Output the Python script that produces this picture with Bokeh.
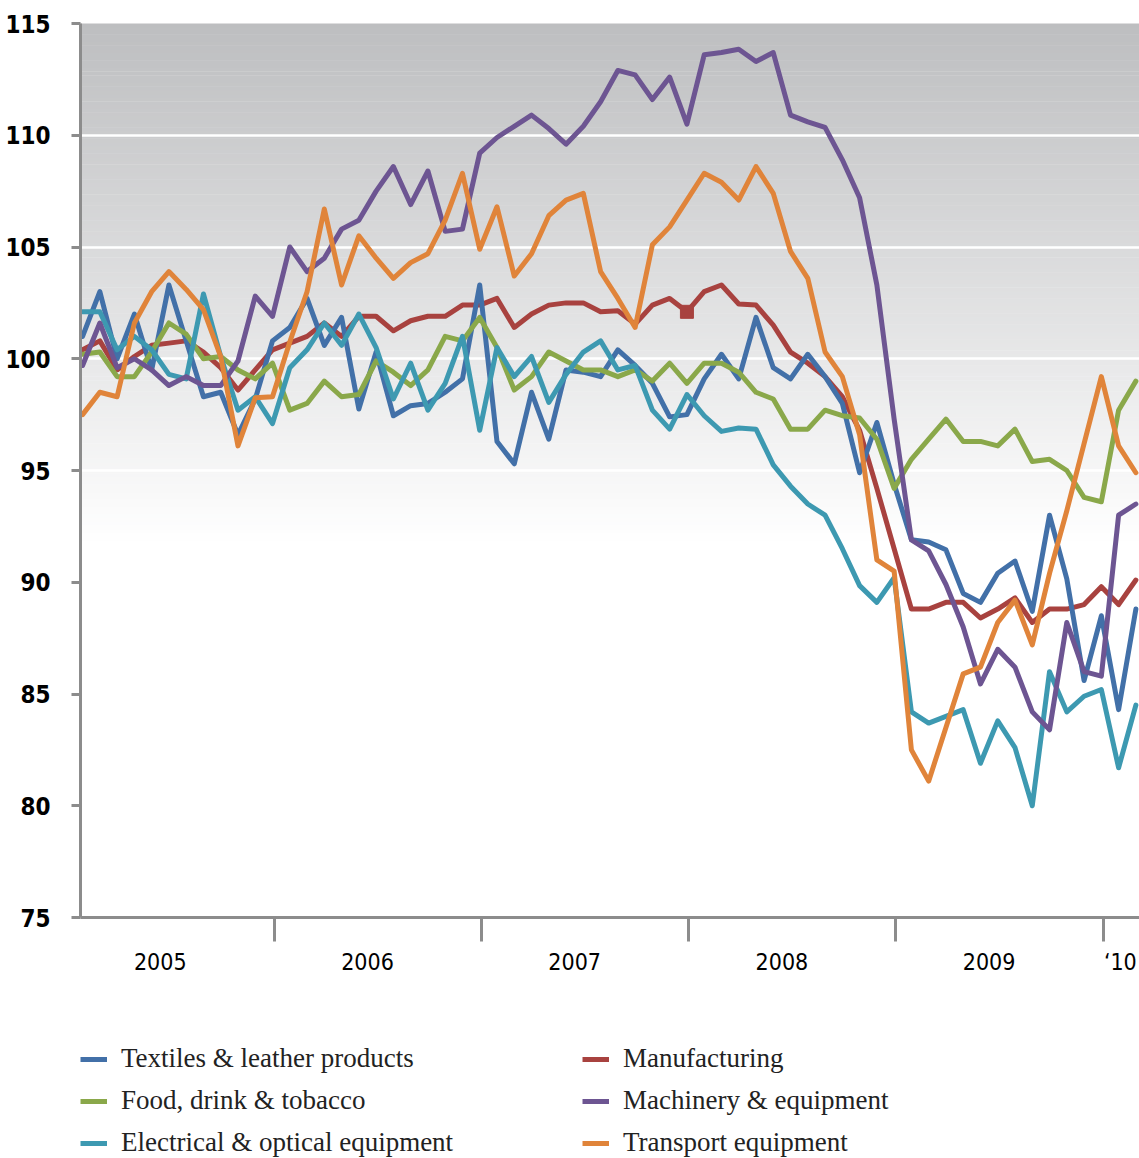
import numpy as np
from bokeh.plotting import figure
from bokeh.layouts import column
from bokeh.models import (Range1d, FixedTicker, Legend, LegendItem,
                          CustomJSTickFormatter)
from bokeh.embed import file_html
from bokeh.resources import INLINE

# Monthly index: 0 = Feb 2005 ... 61 = Mar 2010
months = list(range(62))

textiles = [101.0, 103.0, 100.0, 102.0, 99.5, 103.3, 100.8, 98.3, 98.5, 96.6,
            98.2, 100.8, 101.4, 102.7, 100.6, 101.85, 97.75, 100.3, 97.45, 97.9,
            98.0, 98.5, 99.1, 103.3, 96.3, 95.3, 98.5, 96.4, 99.5, 99.4,
            99.2, 100.4, 99.7, 98.9, 97.4, 97.5, 99.1, 100.2, 99.1, 101.85,
            99.6, 99.1, 100.2, 99.2, 98.0, 94.9, 97.15, 94.4, 91.9, 91.8,
            91.45, 89.5, 89.1, 90.4, 90.95, 88.7, 93.0, 90.15, 85.6, 88.5,
            84.3, 88.8]

manufacturing = [100.4, 100.8, 99.5, 100.1, 100.6, 100.7, 100.8, 100.3, 99.6, 98.6,
                 99.5, 100.4, 100.7, 101.0, 101.6, 101.0, 101.9, 101.9, 101.25, 101.7,
                 101.9, 101.9, 102.4, 102.4, 102.7, 101.4, 102.0, 102.4, 102.5, 102.5,
                 102.1, 102.15, 101.55, 102.4, 102.7, 102.1, 103.0, 103.3, 102.45, 102.4,
                 101.5, 100.3, 99.8, 99.2, 98.3, 96.8, 94.2, 91.5, 88.8, 88.8,
                 89.1, 89.1, 88.4, 88.8, 89.3, 88.2, 88.8, 88.8, 89.0, 89.8,
                 89.0, 90.1]

food = [100.2, 100.3, 99.2, 99.2, 100.3, 101.6, 101.1, 100.0, 100.1, 99.5,
        99.1, 99.8, 97.7, 98.0, 99.0, 98.3, 98.4, 99.9, 99.4, 98.8,
        99.5, 101.0, 100.8, 101.85, 100.5, 98.6, 99.2, 100.3, 99.9, 99.5,
        99.5, 99.2, 99.5, 99.0, 99.8, 98.9, 99.8, 99.8, 99.4, 98.5,
        98.2, 96.85, 96.85, 97.7, 97.45, 97.35, 96.4, 94.2, 95.5, 96.4,
        97.3, 96.3, 96.3, 96.1, 96.85, 95.4, 95.5, 95.0, 93.8, 93.6,
        97.7, 99.0]

machinery = [99.7, 101.6, 99.6, 100.0, 99.5, 98.8, 99.2, 98.8, 98.8, 99.9,
             102.8, 101.9, 105.0, 103.9, 104.5, 105.8, 106.2, 107.5, 108.6, 106.9,
             108.4, 105.7, 105.8, 109.2, 109.9, 110.4, 110.9, 110.3, 109.6, 110.4,
             111.5, 112.9, 112.7, 111.6, 112.6, 110.5, 113.6, 113.7, 113.85, 113.3,
             113.7, 110.9, 110.6, 110.35, 108.9, 107.2, 103.3, 97.3, 91.9, 91.4,
             89.9, 88.0, 85.45, 87.0, 86.2, 84.2, 83.4, 88.2, 86.0, 85.8,
             93.0, 93.5]

electrical = [102.1, 102.1, 100.4, 101.0, 100.4, 99.3, 99.1, 102.9, 100.1, 97.7,
              98.3, 97.1, 99.6, 100.4, 101.6, 100.6, 102.0, 100.5, 98.2, 99.8,
              97.7, 98.9, 101.0, 96.8, 100.5, 99.2, 100.1, 98.05, 99.3, 100.3,
              100.8, 99.5, 99.7, 97.7, 96.85, 98.4, 97.45, 96.75, 96.9, 96.85,
              95.25, 94.3, 93.5, 93.0, 91.5, 89.85, 89.1, 90.2, 84.2, 83.7,
              84.0, 84.3, 81.9, 83.8, 82.6, 80.0, 86.0, 84.2, 84.9, 85.2,
              81.7, 84.5]

transport = [97.5, 98.5, 98.3, 101.6, 103.0, 103.9, 103.1, 102.2, 100.1, 96.1,
             98.25, 98.3, 100.75, 103.0, 106.7, 103.3, 105.5, 104.5, 103.6, 104.3,
             104.7, 106.2, 108.3, 104.9, 106.8, 103.7, 104.7, 106.4, 107.1, 107.4,
             103.9, 102.7, 101.4, 105.1, 105.9, 107.1, 108.3, 107.9, 107.1, 108.6,
             107.4, 104.8, 103.6, 100.3, 99.2, 96.6, 91.0, 90.5, 82.5, 81.1,
             83.5, 85.9, 86.2, 88.2, 89.2, 87.2, 90.4, 93.2, 96.2, 99.2,
             96.1, 94.9]

series_names = ["Textiles & leather products", "Food, drink & tobacco",
                "Electrical & optical equipment", "Manufacturing",
                "Machinery & equipment", "Transport equipment"]

year_labels = ["2005", "2006", "2007", "2008", "2009", "\u201810"]
year_label_pos = [4.5, 16.5, 28.5, 40.5, 52.5, 60.1]
year_bounds = [11.1, 23.1, 35.1, 47.1, 59.1]
y_ticks = [75, 80, 85, 90, 95, 100, 105, 110, 115]
marked_month = 35

colors = {
    "Textiles & leather products": "#4270a8",
    "Food, drink & tobacco": "#8aa84a",
    "Electrical & optical equipment": "#3d99b1",
    "Manufacturing": "#a8423f",
    "Machinery & equipment": "#6d5592",
    "Transport equipment": "#e0843a",
}
data = {
    "Textiles & leather products": textiles,
    "Food, drink & tobacco": food,
    "Electrical & optical equipment": electrical,
    "Manufacturing": manufacturing,
    "Machinery & equipment": machinery,
    "Transport equipment": transport,
}

AXIS_GRAY = "#8c8c8c"
NARROW = "'Liberation Sans Narrow', 'DejaVu Sans Condensed', 'Arial Narrow', sans-serif"

p = figure(width=1139, height=977,
           x_range=Range1d(-0.12, 61.21), y_range=Range1d(75, 115),
           output_backend="svg", toolbar_location=None,
           min_border_left=78, min_border_top=23, min_border_right=0,
           min_border_bottom=60)
p.outline_line_color = None
p.background_fill_color = "white"
p.border_fill_color = "white"

# gradient background (decoration)
n_bands = 140
edges = np.linspace(91.7, 115.0, n_bands + 1)
mids = (edges[:-1] + edges[1:]) / 2
t = (mids - 91.7) / (115.0 - 91.7)
band_colors = []
for tt in t:
    r = int(round(255 - tt * (255 - 189)))
    g = int(round(255 - tt * (255 - 190)))
    b = int(round(255 - tt * (255 - 192)))
    band_colors.append("#%02x%02x%02x" % (r, g, b))
p.quad(left=-5, right=70, bottom=edges[:-1], top=edges[1:] + 0.02,
       fill_color=band_colors, line_color=None, level="image")

# grid
yticker = FixedTicker(ticks=y_ticks)
p.yaxis.ticker = yticker
p.ygrid.ticker = yticker
p.ygrid.grid_line_color = "white"
p.ygrid.grid_line_width = 2.5
p.xgrid.visible = False

# y axis
ya = p.yaxis[0]
ya.axis_line_color = AXIS_GRAY
ya.axis_line_width = 3
ya.major_tick_line_color = AXIS_GRAY
ya.major_tick_line_width = 3
ya.major_tick_out = 9
ya.major_tick_in = 0
ya.minor_tick_line_color = None
ya.major_label_standoff = 21
ya.major_label_text_font = NARROW
ya.major_label_text_font_size = "24px"
ya.major_label_text_font_style = "bold"
ya.major_label_text_color = "black"

# x axis
xa = p.xaxis[0]
xa.ticker = FixedTicker(ticks=year_label_pos, minor_ticks=year_bounds)
xa.formatter = CustomJSTickFormatter(
    args=dict(pos=year_label_pos, labels=year_labels),
    code="""
    for (let i = 0; i < pos.length; i++) {
        if (Math.abs(pos[i] - tick) < 0.01) return labels[i];
    }
    return '';
    """)
xa.axis_line_color = AXIS_GRAY
xa.axis_line_width = 3
xa.major_tick_line_color = None
xa.major_tick_out = 0
xa.major_tick_in = 0
xa.minor_tick_line_color = AXIS_GRAY
xa.minor_tick_line_width = 3
xa.minor_tick_out = 24
xa.minor_tick_in = 0
xa.major_label_standoff = 7
xa.major_label_text_font = NARROW
xa.major_label_text_font_size = "23px"
xa.major_label_text_color = "black"

# lines
draw_order = ["Manufacturing", "Textiles & leather products", "Food, drink & tobacco",
              "Electrical & optical equipment", "Machinery & equipment",
              "Transport equipment"]
for name in draw_order:
    p.line(months, data[name], line_width=5, color=colors[name],
           line_join="round", line_cap="round")

p.scatter([months[marked_month]], [manufacturing[marked_month]], marker="square",
          size=13, color=colors["Manufacturing"])

# legend panel (separate figure holding only the key; its ranges hide the lines)
pl = figure(width=1139, height=181, output_backend="svg", toolbar_location=None,
            min_border_left=80, min_border_top=66, min_border_right=0,
            min_border_bottom=0, x_range=Range1d(0, 1), y_range=Range1d(0, 1))
pl.axis.visible = False
pl.grid.visible = False
pl.outline_line_color = None
pl.background_fill_color = "white"
pl.border_fill_color = "white"
key_renderers = {n: pl.line(months, data[n], line_width=5, color=colors[n])
                 for n in series_names}

legend = Legend(items=[LegendItem(label=n, renderers=[key_renderers[n]]) for n in series_names],
                location="top_left", orientation="vertical", ncols=2,
                glyph_width=27, glyph_height=30, label_height=30, label_width=450,
                label_standoff=14, spacing=11, padding=0, margin=0,
                border_line_color=None, background_fill_alpha=0,
                label_text_font="'Liberation Serif', 'DejaVu Serif', serif",
                label_text_font_size="27px", label_text_color="#222222")
pl.add_layout(legend, "center")

layout = column(p, pl, spacing=0)
open("out.html", "w").write(file_html(layout, INLINE))
